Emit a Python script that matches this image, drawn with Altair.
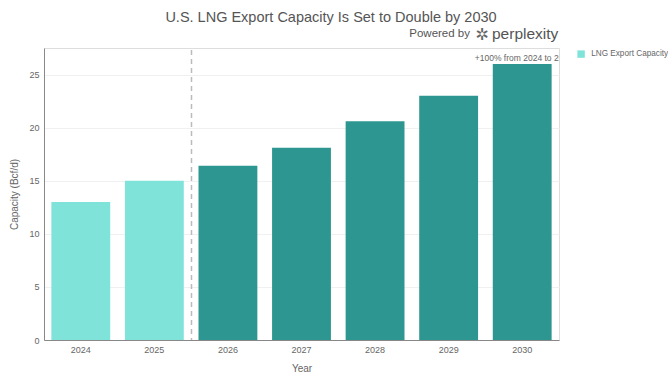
import altair as alt
import pandas as pd

years = ["2024", "2025", "2026", "2027", "2028", "2029", "2030"]
capacity = [13.0, 15.0, 16.4, 18.1, 20.6, 23.0, 26.0]
series = ["LNG Export Capacity", "LNG Export Capacity", "Projected", "Projected",
          "Projected", "Projected", "Projected"]
colors = ["#80e3d9", "#2e9690"]

df = pd.DataFrame({"Year": years, "Capacity": capacity, "Series": series})

FONT = "Liberation Sans"
W, H = 515, 292

xenc = alt.X("Year:N", sort=years,
             scale=alt.Scale(paddingInner=0.2, paddingOuter=0.1),
             axis=alt.Axis(title="Year", labelAngle=0, labelFontSize=9, labelColor="#666",
                           titleFontSize=10, titleColor="#666", titleFontWeight="normal",
                           titlePadding=9, ticks=False, domainColor="#888", labelPadding=5,
                           grid=False))
yscale = alt.Scale(domain=[0, 27.5], nice=False)

bars = alt.Chart(df).mark_bar().encode(
    x=xenc,
    y=alt.Y("Capacity:Q", scale=yscale,
            axis=alt.Axis(title="Capacity (Bcf/d)", values=[0, 5, 10, 15, 20, 25],
                          labelFontSize=9, labelColor="#666", titleFontSize=10,
                          titleColor="#666", titleFontWeight="normal", ticks=False,
                          domainColor="#888", gridColor="#f0f0f0", labelPadding=5,
                          titlePadding=9)),
    color=alt.Color("Series:N", scale=alt.Scale(domain=["LNG Export Capacity", "Projected"], range=colors),
                    legend=alt.Legend(title=None, values=["LNG Export Capacity"], symbolType="square",
                                      labelFontSize=8.2, labelColor="#666", symbolSize=55,
                                      symbolStrokeWidth=0, offset=16, labelFont=FONT,
                                      labelOffset=6, padding=2)),
)

rule_df = pd.DataFrame({"Year": ["2026"]})
rule = alt.Chart(rule_df).mark_rule(color="#bbb", strokeDash=[5, 4], strokeWidth=1.5).encode(
    x=alt.X("Year:N", sort=years, bandPosition=0),
    xOffset=alt.value(-7),
    y=alt.value(2),
    y2=alt.value(H),
)

ann_df = pd.DataFrame({"Year": ["2030"], "Capacity": [26.6], "label": ["+100% from 2024 to 2030"]})
ann = alt.Chart(ann_df).mark_text(fontSize=8.5, color="#666", align="left", clip=True, font=FONT,
                                  dx=-18).encode(
    x=alt.X("Year:N", sort=years, bandPosition=0),
    y=alt.Y("Capacity:Q", scale=yscale),
    text="label:N",
)

title_df = pd.DataFrame({"t": ["U.S. LNG Export Capacity Is Set to Double by 2030"]})
title = alt.Chart(title_df).mark_text(fontSize=14.5, color="#555", font=FONT, align="center").encode(
    x=alt.value(287), y=alt.value(-30), text="t:N")

pw_df = pd.DataFrame({"t": ["Powered by"]})
pw = alt.Chart(pw_df).mark_text(fontSize=11.5, color="#555", font=FONT, align="right").encode(
    x=alt.value(426), y=alt.value(-14), text="t:N")
logo_df = pd.DataFrame({"t": ["✲"]})
logo = alt.Chart(logo_df).mark_text(fontSize=16, color="#666", font="DejaVu Sans", align="center").encode(
    x=alt.value(438), y=alt.value(-13), text="t:N")
px_df = pd.DataFrame({"t": ["perplexity"]})
px = alt.Chart(px_df).mark_text(fontSize=15.5, color="#555", font=FONT, align="left").encode(
    x=alt.value(448), y=alt.value(-14), text="t:N")

chart = alt.layer(bars, rule, ann, title, pw, logo, px).properties(
    width=W, height=H,
    autosize=alt.AutoSizeParams(type="none"),
    padding={"left": 44, "top": 48, "right": 109, "bottom": 33},
).configure_view(stroke=None).configure(font=FONT).configure_axis(labelFont=FONT, titleFont=FONT)

chart.save("out.html", embed_options={"renderer": "svg", "actions": False})
